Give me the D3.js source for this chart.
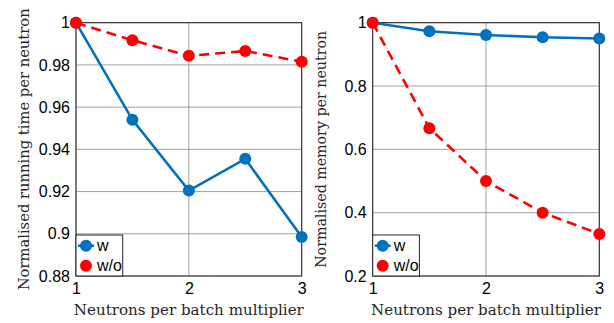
<!DOCTYPE html>
<html>
<head>
<meta charset="utf-8">
<script src="https://cdn.jsdelivr.net/npm/d3@7"></script>
</head>
<body style="margin:0;background:#fff">
<svg id="chart" width="614" height="323"></svg>
<script>
// data
var multipliers = [1, 1.5, 2, 2.5, 3];
var timeW   = [1, 0.954, 0.9205, 0.9355, 0.8985];
var timeWo  = [1, 0.9917, 0.9843, 0.9866, 0.9815];
var memW    = [1, 0.973, 0.961, 0.954, 0.950];
var memWo   = [1, 0.667, 0.5, 0.4, 0.333];
var xTicks  = [1, 2, 3];
var timeTicks = [0.88, 0.9, 0.92, 0.94, 0.96, 0.98, 1];
var memTicks  = [0.2, 0.4, 0.6, 0.8, 1];
var seriesNames = ["w", "w/o"];

var blue = "#0072BD", red = "#FF0000";
var sans = "'Liberation Sans'";
var serif = "'DejaVu Serif'";
var svg = d3.select("#chart");

function panel(left, right, yDomain, yTicks, ySeries, ylabel, ylabelLen) {
  var top = 22.7, bottom = 276;
  var x = d3.scaleLinear().domain([1, 3]).range([left, right]);
  var y = d3.scaleLinear().domain(yDomain).range([bottom, top]);
  var g = svg.append("g");

  // grid
  g.selectAll(".gx").data(xTicks).enter().append("line")
    .attr("x1", d => x(d)).attr("x2", d => x(d))
    .attr("y1", top).attr("y2", bottom)
    .attr("stroke", "#8a8a8a").attr("stroke-width", 0.8);
  g.selectAll(".gy").data(yTicks).enter().append("line")
    .attr("x1", left).attr("x2", right)
    .attr("y1", d => y(d)).attr("y2", d => y(d))
    .attr("stroke", "#8a8a8a").attr("stroke-width", 0.8);

  // axes
  var xa = g.append("g").attr("transform", "translate(0," + bottom + ")")
    .call(d3.axisBottom(x).tickValues(xTicks).tickFormat(d3.format("d")).tickSize(0).tickPadding(7));
  var ya = g.append("g").attr("transform", "translate(" + left + ",0)")
    .call(d3.axisLeft(y).tickValues(yTicks).tickFormat(d => String(+d.toFixed(2))).tickSize(0).tickPadding(6));
  [xa, ya].forEach(function(a) {
    a.select(".domain").remove();
    a.attr("font-size", 16).attr("font-family", sans);
    a.selectAll("text").attr("font-size", 16).style("font-family", sans).style("font-size", "16px").style("fill", "#000");
  });

  g.append("rect").attr("x", left).attr("y", top)
    .attr("width", right - left).attr("height", bottom - top)
    .attr("fill", "none").attr("stroke", "#262626").attr("stroke-width", 1);

  var line = d3.line().x((d, i) => x(multipliers[i])).y(d => y(d));
  var styles = [{c: blue, dash: null}, {c: red, dash: "10,6"}];
  ySeries.forEach(function(s, k) {
    g.append("path").datum(s).attr("d", line)
      .attr("fill", "none").attr("stroke", styles[k].c).attr("stroke-width", 2.6)
      .attr("stroke-dasharray", styles[k].dash);
    g.selectAll(".m" + k).data(s).enter().append("circle")
      .attr("cx", (d, i) => x(multipliers[i])).attr("cy", d => y(d))
      .attr("r", 6).attr("fill", styles[k].c);
  });

  // legend
  var lx = left, ly = 235;
  g.append("rect").attr("x", lx).attr("y", ly).attr("width", 46.7).attr("height", bottom - ly)
    .attr("fill", "#fff").attr("stroke", "#262626").attr("stroke-width", 1);
  seriesNames.forEach(function(n, k) {
    var yy = ly + 10.7 + k * 20;
    if (k === 0) {
      g.append("line").attr("x1", lx + 2).attr("x2", lx + 18).attr("y1", yy).attr("y2", yy)
        .attr("stroke", styles[k].c).attr("stroke-width", 2.6);
    }
    g.append("circle").attr("cx", lx + 10).attr("cy", yy).attr("r", 6).attr("fill", styles[k].c);
    g.append("text").attr("x", lx + 21).attr("y", yy + 5.5).text(n)
      .style("font-family", sans).style("font-size", "16px").style("fill", "#000");
  });

  // labels
  g.append("text").attr("text-anchor", "middle")
    .attr("x", (left + right) / 2).attr("y", 315)
    .attr("textLength", 230).attr("lengthAdjust", "spacingAndGlyphs")
    .style("font-family", serif).style("font-size", "15px").style("fill", "#262626")
    .text("Neutrons per batch multiplier");
  g.append("text").attr("text-anchor", "middle")
    .attr("transform", "translate(" + (left - 47) + "," + ((top + bottom) / 2) + ") rotate(-90)")
    .attr("textLength", ylabelLen).attr("lengthAdjust", "spacingAndGlyphs")
    .style("font-family", serif).style("font-size", "15px").style("fill", "#262626")
    .text(ylabel);
}

panel(76, 301.7, [0.88, 1], timeTicks, [timeW, timeWo], "Normalised running time per neutron", 282);
panel(372.7, 599.3, [0.2, 1], memTicks, [memW, memWo], "Normalised memory per neutron", 237);
</script>
</body>
</html>
